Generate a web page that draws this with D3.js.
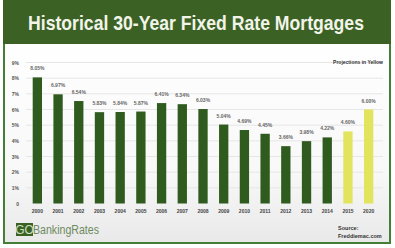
<!DOCTYPE html>
<html lang="en">
<head>
<meta charset="UTF-8">
<title>Historical 30-Year Fixed Rate Mortgages</title>
<script src="https://d3js.org/d3.v7.min.js"></script>
<style>
  body { margin: 0; background: #fff; }
  svg { display: block; font-family: "Liberation Sans", Arial, sans-serif; }
</style>
</head>
<body>
<div id="chart"></div>
<script>
// Data
const years = ["2000","2001","2002","2003","2004","2005","2006","2007","2008","2009","2010","2011","2012","2013","2014","2015","2020"];
const rates = [8.05, 6.97, 6.54, 5.83, 5.84, 5.87, 6.41, 6.34, 6.03, 5.04, 4.69, 4.45, 3.66, 3.98, 4.22, 4.60, 6.00];
const projected = ["2015", "2020"];
const yTicks = [0, 1, 2, 3, 4, 5, 6, 7, 8, 9];

const W = 395, H = 248;
const svg = d3.select("#chart").append("svg")
    .attr("width", W).attr("height", H);

// background gradient (white to light grey at the bottom)
const defs = svg.append("defs");
const grad = defs.append("linearGradient").attr("id", "bg")
    .attr("x1", 0).attr("y1", 0).attr("x2", 0).attr("y2", 1);
grad.append("stop").attr("offset", "0%").attr("stop-color", "#ffffff");
grad.append("stop").attr("offset", "65%").attr("stop-color", "#f8f8f8");
grad.append("stop").attr("offset", "100%").attr("stop-color", "#e9e9e9");

svg.append("rect").attr("x", 4).attr("y", 40).attr("width", 386).attr("height", 203)
    .attr("fill", "url(#bg)").attr("stroke", "#457f36").attr("stroke-width", 2);

// title bar
svg.append("rect").attr("x", 3).attr("y", 0).attr("width", 388).attr("height", 44)
    .attr("fill", "#3b6224");
const title = svg.append("text")
    .attr("text-anchor", "middle")
    .attr("fill", "#f2f4ea")
    .attr("font-size", 20).attr("font-weight", "bold")
    .text("Historical 30-Year Fixed Rate Mortgages");
// squeeze the title horizontally to the narrow look of the original
const tw = title.node().getComputedTextLength();
title.attr("transform", `translate(196,30) scale(${336 / tw},1)`);

// scales
const x = d3.scaleBand().domain(years).range([27, 379])
    .paddingInner(0.55).paddingOuter(0.275);
const y = d3.scaleLinear().domain([0, 9]).range([203.5, 62.5]);

// gridlines
svg.append("g").selectAll("line").data(yTicks.slice(1)).join("line")
    .attr("x1", 26).attr("x2", 383)
    .attr("y1", d => y(d)).attr("y2", d => y(d))
    .attr("stroke", "#e6e6e6").attr("stroke-width", 1);

// y axis labels
const yAxis = d3.axisLeft(y).tickValues(yTicks).tickSize(0)
    .tickFormat(d => d === 0 ? "0" : d + "%");
svg.append("g").attr("transform", "translate(22,0)").call(yAxis)
    .call(g => g.select(".domain").remove())
    .selectAll("text")
    .attr("font-size", 5).attr("font-weight", "bold").attr("fill", "#555")
    .attr("font-family", "Liberation Sans, Arial, sans-serif");

// bars
svg.append("g").selectAll("rect").data(years).join("rect")
    .attr("x", d => x(d))
    .attr("y", (d, i) => y(rates[i]))
    .attr("width", x.bandwidth())
    .attr("height", (d, i) => y(0) - y(rates[i]))
    .attr("fill", d => projected.includes(d) ? "#e2e45e" : "#2f5b1f");

// value labels
svg.append("g").selectAll("text").data(years).join("text")
    .attr("x", d => x(d) + x.bandwidth() / 2)
    .attr("y", (d, i) => y(rates[i]) - 7)
    .attr("text-anchor", "middle")
    .attr("font-size", 5).attr("font-weight", "bold").attr("fill", "#666")
    .text((d, i) => rates[i].toFixed(2) + "%");

// x axis labels
const xAxis = d3.axisBottom(x).tickSize(0);
svg.append("g").attr("transform", "translate(0,206)").call(xAxis)
    .call(g => g.select(".domain").remove())
    .selectAll("text")
    .attr("font-size", 5).attr("font-weight", "bold").attr("fill", "#444")
    .attr("font-family", "Liberation Sans, Arial, sans-serif");

// note
svg.append("text").attr("x", 383).attr("y", 64).attr("text-anchor", "end")
    .attr("font-size", 5).attr("font-weight", "bold").attr("fill", "#333")
    .text("Projections in Yellow");

// logo
svg.append("rect").attr("x", 16).attr("y", 223).attr("width", 17).attr("height", 13)
    .attr("fill", "#3b6224");
svg.append("text").attr("x", 24.5).attr("y", 234).attr("text-anchor", "middle")
    .attr("font-size", 12).attr("fill", "#cfe0c0")
    .text("GO");
svg.append("text").attr("x", 33).attr("y", 234)
    .attr("font-size", 12).attr("fill", "#6d8a5f")
    .attr("textLength", 66).attr("lengthAdjust", "spacingAndGlyphs")
    .text("BankingRates");

// source
svg.append("text").attr("x", 338).attr("y", 230)
    .attr("font-size", 5.5).attr("font-weight", "bold").attr("fill", "#333")
    .text("Source:");
svg.append("text").attr("x", 338).attr("y", 238)
    .attr("font-size", 5.5).attr("font-weight", "bold").attr("fill", "#333")
    .text("Freddiemac.com");
</script>
</body>
</html>
